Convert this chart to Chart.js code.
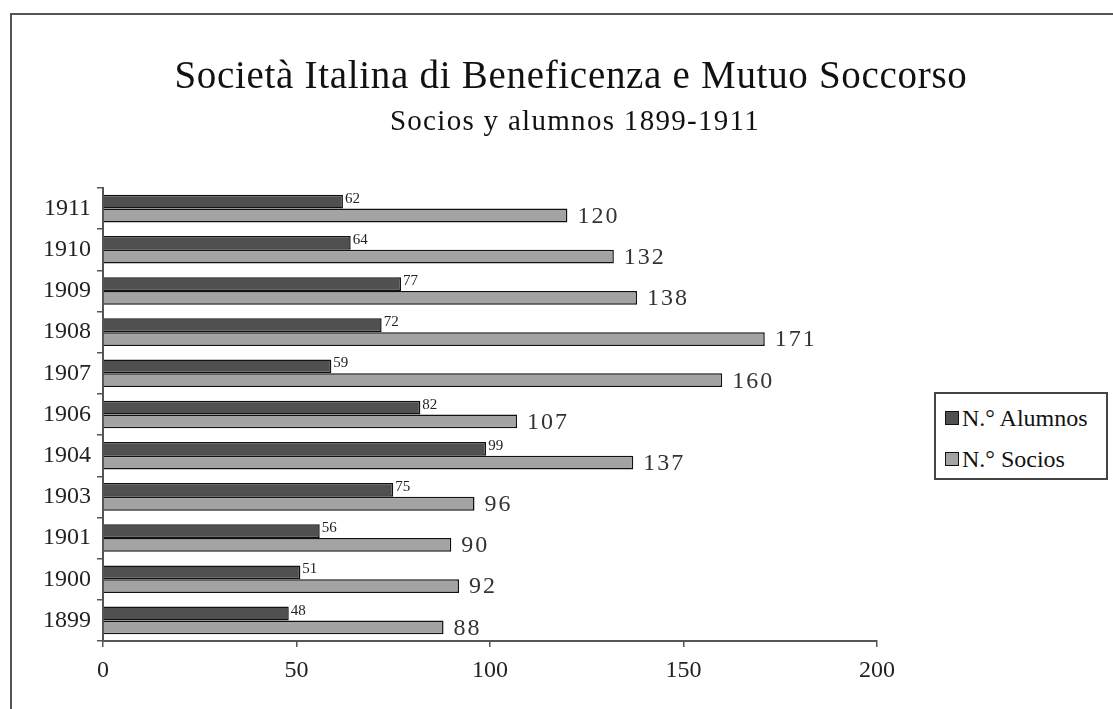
<!DOCTYPE html>
<html>
<head>
<meta charset="utf-8">
<script src="https://cdn.jsdelivr.net/npm/chart.js@4"></script>
<style>
  html, body { margin: 0; padding: 0; background: #fff; overflow: hidden; }
  #wrap { position: relative; width: 1113px; height: 709px; }
  #frame { position: absolute; left: 10px; top: 13px; right: -10px; bottom: -10px;
           border-left: 2px solid #555; border-top: 2px solid #555; }
  .txt { position: absolute; font-family: "Liberation Serif", "Times New Roman", serif;
         color: #111; white-space: nowrap; }
  #titulo { left: 0; width: 1142px; text-align: center; top: 55px; font-size: 39px;
            line-height: 39px; letter-spacing: 0.7px; }
  #subtitulo { left: 0; width: 1150px; text-align: center; top: 106px; font-size: 29px;
               line-height: 29px; letter-spacing: 1.3px; }
  #leyenda { position: absolute; left: 934px; top: 392px; width: 174px; height: 88px;
             border: 2px solid #444; box-sizing: border-box; background: #fff; }
  .item { position: absolute; left: 9px; height: 24px; font-size: 24px; line-height: 24px; }
  .item i { display: inline-block; width: 12px; height: 12px; border: 1.5px solid #111;
            margin-right: 3px; vertical-align: 1px; }
  canvas { position: absolute; left: 0; top: 0; }
</style>
</head>
<body>
<div id="wrap">
  <div id="frame"></div>
  <canvas id="grafico" width="1113" height="709"></canvas>
  <div id="titulo" class="txt">Società Italina di Beneficenza e Mutuo Soccorso</div>
  <div id="subtitulo" class="txt">Socios y alumnos 1899-1911</div>
  <div id="leyenda"></div>
</div>
<script>
// Anos (de cima para baixo, como no original)
const anos = ['1911', '1910', '1909', '1908', '1907', '1906', '1904', '1903', '1901', '1900', '1899'];

// Séries
const alumnos = [62, 64, 77, 72, 59, 82, 99, 75, 56, 51, 48];
const socios = [120, 132, 138, 171, 160, 107, 137, 96, 90, 92, 88];

const nomesSeries = ['N.° Alumnos', 'N.° Socios'];
const coresSeries = ['#505050', '#a3a3a3'];

// Marcas do eixo x
const ticksX = [0, 50, 100, 150, 200];

const fonteSerif = '"Liberation Serif", "Times New Roman", serif';

// Rótulos de valor ao lado das barras
const rotulosPlugin = {
    id: 'rotulos',
    afterDatasetsDraw(chart) {
        const ctx = chart.ctx;
        ctx.save();
        chart.data.datasets.forEach((ds, i) => {
            const meta = chart.getDatasetMeta(i);
            meta.data.forEach((bar, j) => {
                const valor = ds.data[j];
                ctx.textAlign = 'left';
                if (i === 0) {
                    ctx.font = '15px ' + fonteSerif;
                    ctx.fillStyle = '#222';
                    ctx.letterSpacing = '0px';
                    ctx.textBaseline = 'alphabetic';
                    ctx.fillText(valor, bar.x + 2, bar.y + 1);
                } else {
                    ctx.font = '24px ' + fonteSerif;
                    ctx.fillStyle = '#333';
                    ctx.letterSpacing = '2px';
                    ctx.textBaseline = 'middle';
                    ctx.fillText(valor, bar.x + 10, bar.y + 1);
                }
            });
        });
        ctx.restore();
    }
};

// Legenda em HTML (montada a partir das séries)
const leyenda = document.getElementById('leyenda');
nomesSeries.forEach((nome, i) => {
    const div = document.createElement('div');
    div.className = 'txt item';
    div.style.top = (i === 0 ? 12 : 53) + 'px';
    const quad = document.createElement('i');
    quad.style.background = coresSeries[i];
    div.appendChild(quad);
    div.appendChild(document.createTextNode(nome));
    leyenda.appendChild(div);
});

const ctx = document.getElementById('grafico').getContext('2d');
new Chart(ctx, {
    type: 'bar',
    data: {
        labels: anos,
        datasets: [
            {
                label: nomesSeries[0],
                data: alumnos,
                backgroundColor: coresSeries[0],
                borderColor: '#111',
                borderWidth: 1.5,
                categoryPercentage: 0.67,
                barPercentage: 1
            },
            {
                label: nomesSeries[1],
                data: socios,
                backgroundColor: coresSeries[1],
                borderColor: '#111',
                borderWidth: 1.5,
                categoryPercentage: 0.67,
                barPercentage: 1
            }
        ]
    },
    options: {
        indexAxis: 'y',
        responsive: false,
        animation: false,
        layout: { padding: { top: 188, right: 236, bottom: 24, left: 41 } },
        plugins: {
            legend: { display: false },
            title: { display: false },
            tooltip: { enabled: false }
        },
        scales: {
            x: {
                min: 0,
                max: 200,
                afterBuildTicks: (scale) => { scale.ticks = ticksX.map(v => ({ value: v })); },
                afterFit: (scale) => { scale.height = 44; },
                ticks: {
                    font: { family: fonteSerif, size: 24 },
                    color: '#222',
                    padding: 9
                },
                grid: { drawOnChartArea: false, drawTicks: true, tickLength: 6, color: '#555', lineWidth: 1.5 },
                border: { color: '#555', width: 2 }
            },
            y: {
                afterFit: (scale) => { scale.width = 62; },
                ticks: {
                    font: { family: fonteSerif, size: 24 },
                    color: '#222',
                    padding: 6
                },
                grid: { drawOnChartArea: false, drawTicks: true, tickLength: 6, color: '#555', lineWidth: 1.5 },
                border: { color: '#555', width: 2 }
            }
        }
    },
    plugins: [rotulosPlugin]
});
</script>
</body>
</html>
